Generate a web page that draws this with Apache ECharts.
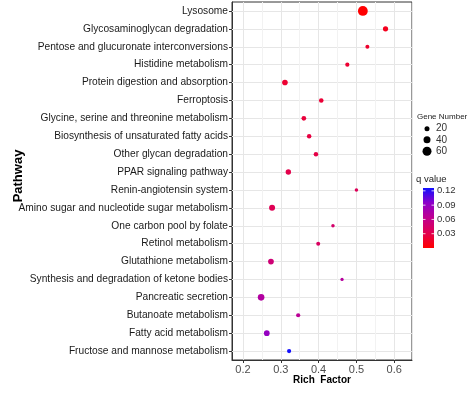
<!DOCTYPE html>
<html>
<head>
<meta charset="utf-8">
<script src="https://cdn.jsdelivr.net/npm/echarts@6/dist/echarts.min.js"></script>
<style>
html,body{margin:0;padding:0;background:#fff;}
#chart{width:474px;height:401px;}
</style>
</head>
<body>
<div id="chart"></div>
<script>
// ---- data (top to bottom) ----
const pathways = [
  "Lysosome",
  "Glycosaminoglycan degradation",
  "Pentose and glucuronate interconversions",
  "Histidine metabolism",
  "Protein digestion and absorption",
  "Ferroptosis",
  "Glycine, serine and threonine metabolism",
  "Biosynthesis of unsaturated fatty acids",
  "Other glycan degradation",
  "PPAR signaling pathway",
  "Renin-angiotensin system",
  "Amino sugar and nucleotide sugar metabolism",
  "One carbon pool by folate",
  "Retinol metabolism",
  "Glutathione metabolism",
  "Synthesis and degradation of ketone bodies",
  "Pancreatic secretion",
  "Butanoate metabolism",
  "Fatty acid metabolism",
  "Fructose and mannose metabolism"
];
const richFactor = [0.517, 0.577, 0.529, 0.476, 0.311, 0.407, 0.361, 0.375, 0.393, 0.320,
                    0.500, 0.277, 0.438, 0.399, 0.274, 0.462, 0.248, 0.346, 0.263, 0.322];
const geneNumber = [68, 22, 10, 12, 26, 16, 17, 15, 15, 24,
                    5, 30, 5, 10, 27, 3, 36, 12, 27, 12];
const qValue = [0.0005, 0.012, 0.018, 0.020, 0.020, 0.022, 0.024, 0.026, 0.028, 0.030,
                0.036, 0.034, 0.045, 0.040, 0.050, 0.070, 0.072, 0.066, 0.090, 0.125];
const xMinorTicks = [0.25, 0.35, 0.45, 0.55];
const sizeLegend = [20, 40, 60];
const qTicks = [0.03, 0.06, 0.09, 0.12];
const qMin = 0, qMax = 0.126;
const qColors = ['#FF0000', '#E2004F', '#C0008F', '#8E00C9', '#1010FF'];

const FONT = '"Liberation Sans", Arial, sans-serif';
const sizeOf = g => 3 + 0.1 * g;

const points = pathways.map((p, i) => [richFactor[i], p, geneNumber[i], qValue[i]]);

const chart = echarts.init(document.getElementById('chart'), null, {renderer: 'canvas'});

// legend geometry
const barX = 423, barW = 11, barTop = 188, barH = 60;
const qY = v => barTop + barH - (v - qMin) / (qMax - qMin) * barH;

const graphics = [];
graphics.push({type: 'text', left: 417, top: 113, style: {text: 'Gene Number', font: '8px ' + FONT, fill: '#222'}});
sizeLegend.forEach((v, i) => {
  const cy = [128.7, 139.8, 151.3][i];
  graphics.push({type: 'circle', shape: {cx: 427, cy: cy, r: sizeOf(v) / 2}, style: {fill: '#000'}});
  graphics.push({type: 'text', x: 436, y: cy, style: {text: String(v), font: '10px ' + FONT, fill: '#333', verticalAlign: 'middle'}});
});
graphics.push({type: 'text', left: 416, top: 174, style: {text: 'q value', font: '9.5px ' + FONT, fill: '#222'}});
const stops = qColors.map((c, i) => ({offset: 1 - i / (qColors.length - 1), color: c})).reverse();
graphics.push({type: 'rect', shape: {x: barX, y: barTop, width: barW, height: barH},
  style: {fill: new echarts.graphic.LinearGradient(0, 0, 0, 1, stops)}});
qTicks.forEach(v => {
  const y = qY(v);
  graphics.push({type: 'line', shape: {x1: barX, y1: y, x2: barX + 2.5, y2: y}, style: {stroke: '#fff', lineWidth: 0.8}});
  graphics.push({type: 'line', shape: {x1: barX + barW - 2.5, y1: y, x2: barX + barW, y2: y}, style: {stroke: '#fff', lineWidth: 0.8}});
  graphics.push({type: 'text', x: 437, y: y, style: {text: v.toFixed(2), font: '9.5px ' + FONT, fill: '#333', verticalAlign: 'middle'}});
});

chart.setOption({
  backgroundColor: '#fff',
  animation: false,
  grid: {left: 232, right: 62, top: 2, bottom: 41, show: true, borderColor: '#333', borderWidth: 1, backgroundColor: 'transparent'},
  xAxis: {
    type: 'value', min: 0.171, max: 0.647, splitNumber: 5,
    name: 'Rich  Factor', nameLocation: 'middle', nameGap: 15, nameMoveOverlap: false,
    nameTextStyle: {fontFamily: FONT, fontWeight: 'bold', fontSize: 10, color: '#000'},
    axisLine: {show: true, lineStyle: {color: '#333', width: 1}},
    axisTick: {show: true, length: 3, lineStyle: {color: '#333'}},
    axisLabel: {showMinLabel: false, showMaxLabel: false, fontFamily: FONT, fontSize: 11, color: '#4d4d4d', margin: 4,
      formatter: v => v.toFixed(1)},
    splitLine: {show: true, lineStyle: {color: '#E6E6E6', width: 1}}
  },
  yAxis: {
    type: 'category', data: pathways, inverse: true,
    name: 'Pathway', nameLocation: 'middle', nameGap: 207, nameMoveOverlap: false,
    nameTextStyle: {fontFamily: FONT, fontWeight: 'bold', fontSize: 13, color: '#000', padding: [0, 0, 0, 10]},
    axisLine: {show: true, lineStyle: {color: '#333', width: 1}},
    axisTick: {show: true, alignWithLabel: true, length: 3, lineStyle: {color: '#333'}},
    axisLabel: {fontFamily: FONT, fontSize: 10.2, color: '#1a1a1a', margin: 4, interval: 0},
    splitLine: {show: false}
  },
  visualMap: {
    show: false, type: 'continuous', seriesIndex: 1, dimension: 3,
    min: qMin, max: qMax, inRange: {color: qColors}
  },
  series: [
    {
      type: 'line', data: [], z: 1, silent: true,
      markLine: {
        silent: true, symbol: 'none', z: 1, label: {show: false}, animation: false,
        data: [
          ...pathways.map(p => ({yAxis: p, lineStyle: {color: '#E6E6E6', width: 1, type: 'solid'}})),
          ...xMinorTicks.map(v => ({xAxis: v, lineStyle: {color: '#F2F2F2', width: 1, type: 'solid'}}))
        ]
      }
    },
    {
      type: 'scatter', z: 3, data: points,
      encode: {x: 0, y: 1},
      symbolSize: v => sizeOf(v[2]),
      itemStyle: {opacity: 1}
    }
  ],
  graphic: graphics
});
</script>
</body>
</html>
